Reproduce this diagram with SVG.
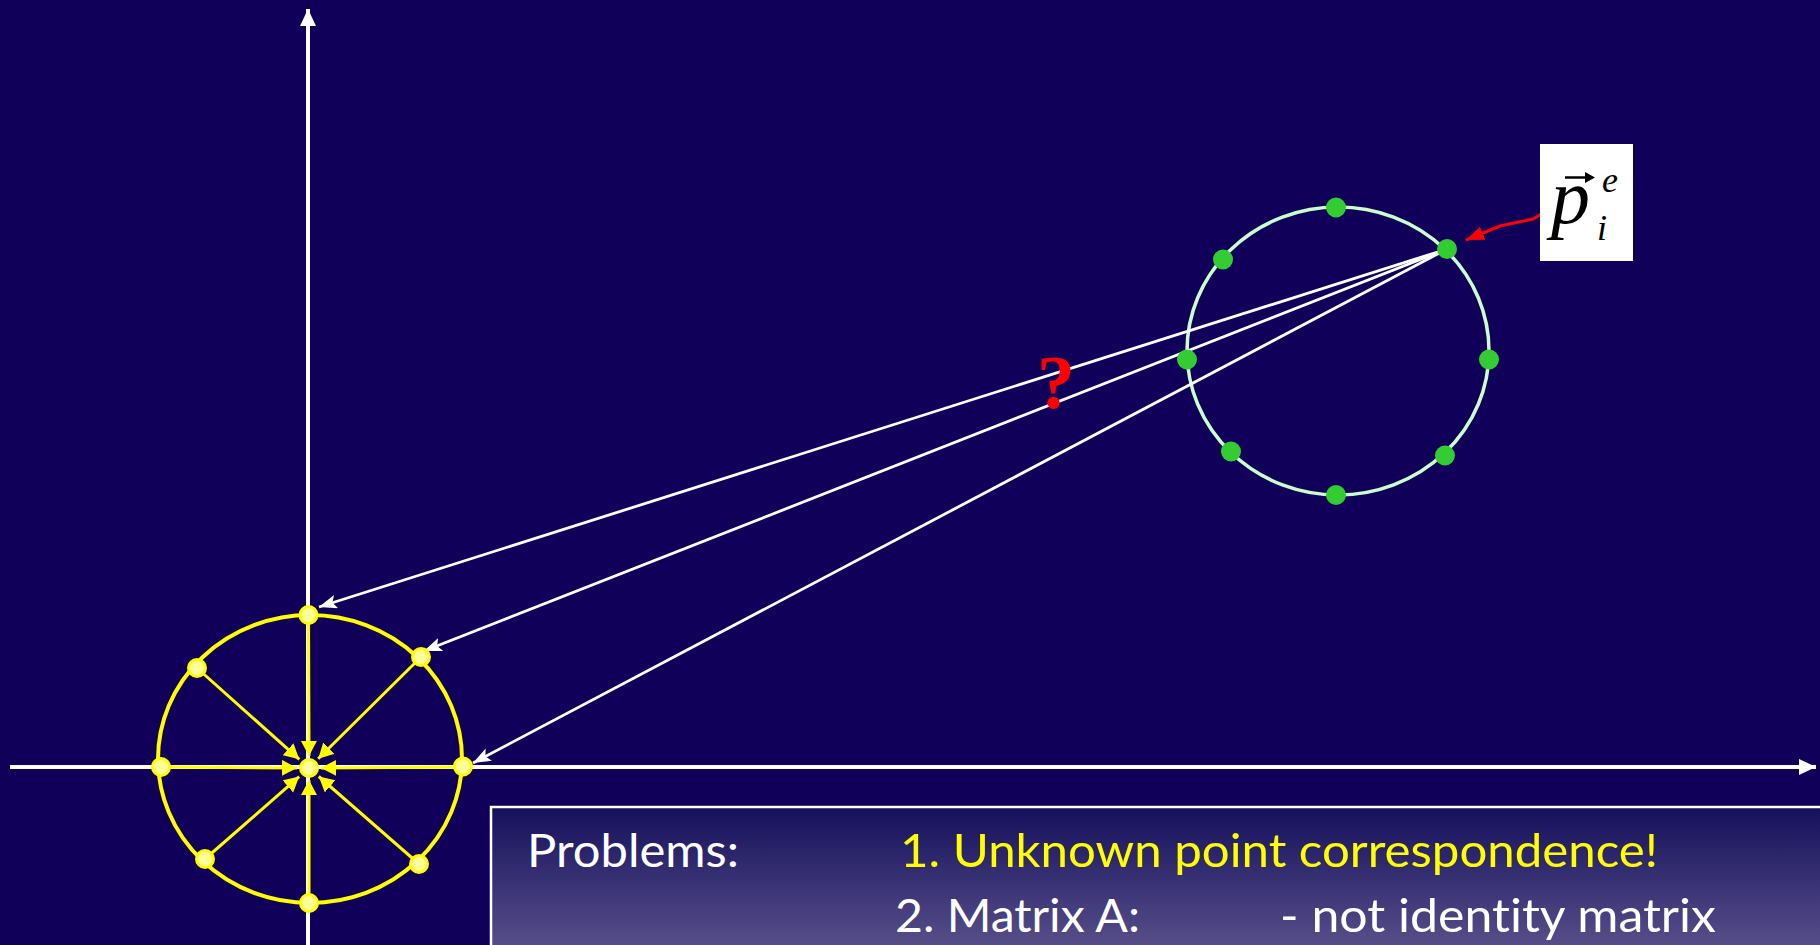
<svg xmlns="http://www.w3.org/2000/svg" width="1820" height="945" viewBox="0 0 1820 945">
<defs>
<marker id="wa" markerUnits="userSpaceOnUse" markerWidth="20" markerHeight="16" refX="18" refY="7" orient="auto"><path d="M0,0 L18,7 L0,14 L4,7 z" fill="#ffffff"/></marker>
<marker id="ax" markerUnits="userSpaceOnUse" markerWidth="20" markerHeight="18" refX="17" refY="8" orient="auto"><path d="M0,0 L17,8 L0,16 z" fill="#ffffff"/></marker>
<marker id="ya" markerUnits="userSpaceOnUse" markerWidth="18" markerHeight="18" refX="15" refY="8" orient="auto"><path d="M0,0 L15,8 L0,16 z" fill="#ffff00"/></marker>
<marker id="ra" markerUnits="userSpaceOnUse" markerWidth="20" markerHeight="16" refX="18" refY="7" orient="auto"><path d="M0,0 L18,7 L0,14 z" fill="#ff0000"/></marker>
<linearGradient id="bg" x1="0" y1="0" x2="0" y2="1"><stop offset="0" stop-color="#15105c"/><stop offset="1" stop-color="#5c538c"/></linearGradient>
</defs>
<style>
.axis{stroke:#ffffff;stroke-width:4;fill:none}
.conn{stroke:#ffffff;stroke-width:2.8;fill:none;marker-end:url(#wa)}
.spoke{stroke:#ffff00;stroke-width:3;fill:none;marker-end:url(#ya)}
.ydot{fill:#ffff99;stroke:#ffff00;stroke-width:3}
.gdot{fill:#33cc33}
.txt{font-family:Lato,"Liberation Sans",sans-serif;font-size:47px;font-variant-ligatures:none}
</style>
<rect x="0" y="0" width="1820" height="945" fill="#10005a"/>
<g id="axes">
<line class="axis" x1="308" y1="945" x2="308" y2="9" marker-end="url(#ax)"/>
<line class="axis" x1="10" y1="767" x2="1816" y2="767" marker-end="url(#ax)"/>
</g>
<g id="problems-box">
<rect x="491" y="807" width="1340" height="150" fill="url(#bg)" stroke="#ffffff" stroke-width="2.5"/>
<text class="txt" x="527" y="867" fill="#ffffff" textLength="212" lengthAdjust="spacingAndGlyphs">Problems:</text>
<text class="txt" x="900" y="867" fill="#ffff00" textLength="758" lengthAdjust="spacingAndGlyphs">1. Unknown point correspondence!</text>
<text class="txt" x="895" y="932" fill="#ffffff" textLength="245" lengthAdjust="spacingAndGlyphs">2. Matrix A:</text>
<text class="txt" x="1280" y="932" fill="#ffffff" textLength="436" lengthAdjust="spacingAndGlyphs">- not identity matrix</text>
</g>
<g id="model-circle">
<ellipse cx="310" cy="759" rx="152" ry="144" fill="none" stroke="#ffff00" stroke-width="4"/>
</g>
<g id="scene-circle">
<ellipse cx="1338" cy="351" rx="151" ry="144" fill="none" stroke="#ccffcc" stroke-width="3.5"/>
</g>
<g id="connectors">
<line class="spoke" x1="308.5" y1="615" x2="309" y2="756"/>
<line class="spoke" x1="309" y1="903" x2="309" y2="780"/>
<line class="spoke" x1="161" y1="767" x2="297" y2="768"/>
<line class="spoke" x1="463" y1="767" x2="321" y2="768"/>
<line class="spoke" x1="197" y1="668" x2="299.3" y2="759.3"/>
<line class="spoke" x1="421" y1="657" x2="318.2" y2="758.8"/>
<line class="spoke" x1="205" y1="859" x2="299.2" y2="776.6"/>
<line class="spoke" x1="419" y1="864" x2="318.8" y2="776.5"/>
<line class="conn" x1="1447" y1="249" x2="319" y2="607"/>
<line class="conn" x1="1447" y1="249" x2="424" y2="651"/>
<line class="conn" x1="1447" y1="249" x2="473" y2="763"/>
<path d="M1550,209 L1533,219 L1500,226 L1466,240" fill="none" stroke="#ff0000" stroke-width="3" marker-end="url(#ra)"/>
</g>
<g id="model-points">
<circle class="ydot" cx="308.5" cy="615" r="8.5"/>
<circle class="ydot" cx="421" cy="657" r="8.5"/>
<circle class="ydot" cx="463" cy="766.5" r="8.5"/>
<circle class="ydot" cx="419" cy="864" r="8.5"/>
<circle class="ydot" cx="309" cy="903" r="8.5"/>
<circle class="ydot" cx="205" cy="859" r="8.5"/>
<circle class="ydot" cx="161" cy="767" r="8.5"/>
<circle class="ydot" cx="197" cy="668" r="8.5"/>
<circle class="ydot" cx="309" cy="768" r="8.5"/>
</g>
<g id="scene-points">
<circle class="gdot" cx="1336" cy="207.5" r="10"/>
<circle class="gdot" cx="1447" cy="249" r="10"/>
<circle class="gdot" cx="1489" cy="359.5" r="10"/>
<circle class="gdot" cx="1445" cy="455.5" r="10"/>
<circle class="gdot" cx="1336" cy="495" r="10"/>
<circle class="gdot" cx="1231" cy="451.5" r="10"/>
<circle class="gdot" cx="1187" cy="359.5" r="10"/>
<circle class="gdot" cx="1223" cy="259.5" r="10"/>
</g>
<g id="question">
<text x="1056" y="408" text-anchor="middle" font-family="'Liberation Serif',serif" font-weight="bold" font-size="76" fill="#ff0000">?</text>
</g>
<g id="label-p">
<rect x="1540" y="144" width="93" height="117" fill="#ffffff"/>
<line x1="1565" y1="177.5" x2="1588" y2="177.5" stroke="#000000" stroke-width="2.5"/>
<path d="M1585,172 L1595,177.5 L1585,183 z" fill="#000000"/>
<text x="1551" y="223" font-family="'Liberation Serif',serif" font-style="italic" font-size="78" fill="#000000">p</text>
<text x="1602" y="192" font-family="'Liberation Serif',serif" font-style="italic" font-size="36" fill="#000000">e</text>
<text x="1597" y="240" font-family="'Liberation Serif',serif" font-style="italic" font-size="36" fill="#000000">i</text>
</g>
</svg>
